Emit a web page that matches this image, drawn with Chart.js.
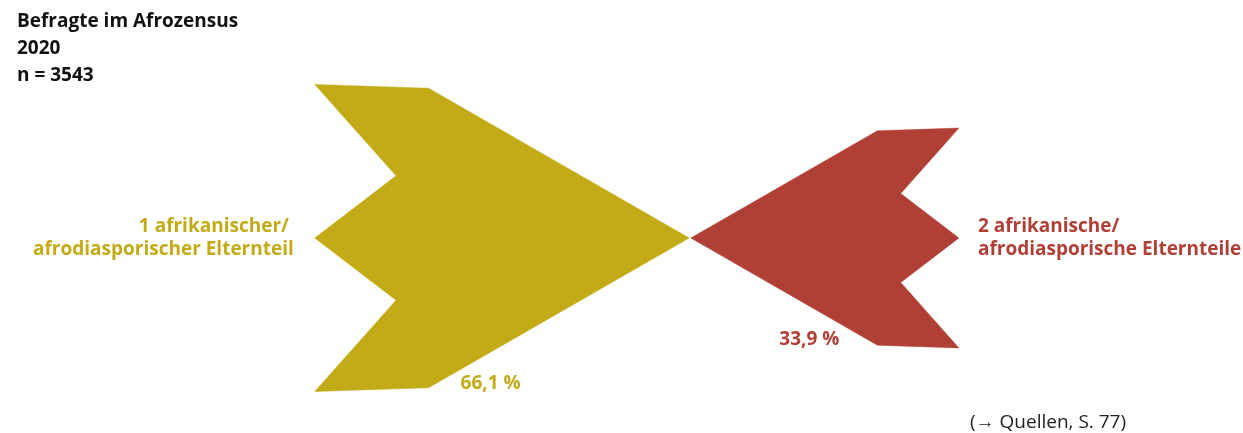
<!DOCTYPE html>
<html lang="de">
<head>
<meta charset="utf-8">
<title>Afrozensus 2020 – Elternteile</title>
<script src="https://cdn.jsdelivr.net/npm/chart.js@4/dist/chart.umd.min.js"></script>
<style>
  html, body { margin: 0; padding: 0; background: #fff; }
  #wrap { position: relative; width: 1243px; height: 433px; }
</style>
</head>
<body>
<div id="wrap"><canvas id="arrows"></canvas></div>
<script>
// Daten
const categories = [
  "1 afrikanischer/ afrodiasporischer Elternteil",
  "2 afrikanische/ afrodiasporische Elternteile",
];
const shares = [66.1, 33.9];
const shareLabels = ["66,1 %", "33,9 %"];
const titleLines = ["Befragte im Afrozensus", "2020", "n = 3543"];
const sourceNote = "(\u2192 Quellen, S. 77)";

const colors = ["#c3ab17", "#b04036"];
const font = "'Open Sans', 'Noto Sans', sans-serif";

// Pfeilform (Spitze bei 0, Breite 1), Fläche proportional zum Anteil
const arrowShape = [
  [0, 0], [0.696, -0.4], [1, -0.41], [0.783, -0.166], [1, 0],
  [0.783, 0.166], [1, 0.41], [0.696, 0.4], [0, 0],
];
const unitsPerSqrt = 46.05;
const tipGap = 0.8;

function shapePoints(share, dir) {
  const size = unitsPerSqrt * Math.sqrt(share);
  return arrowShape.map(([dx, dy]) => ({
    x: dir * (tipGap + dx * size),
    y: dy * size,
  }));
}

const datasets = shares.map((share, i) => ({
  label: categories[i],
  data: shapePoints(share, i === 0 ? -1 : 1),
  showLine: true,
  fill: "shape",
  backgroundColor: colors[i],
  borderColor: colors[i],
  borderWidth: 0.5,
  pointRadius: 0,
  tension: 0,
}));

// Texte: Titel, Kategorien, Prozentwerte, Quelle
const labelPlugin = {
  id: "labels",
  afterDraw(chart) {
    const ctx = chart.ctx;
    const xs = chart.scales.x;
    const ys = chart.scales.y;
    ctx.save();

    ctx.fillStyle = "#111";
    ctx.textAlign = "left";
    ctx.font = "bold 19px " + font;
    titleLines.forEach((t, i) => ctx.fillText(t, 17, 27 + i * 27));

    chart.data.datasets.forEach((ds, i) => {
      const pts = ds.data;
      const left = i === 0;
      const outer = pts[4];
      const inner = pts[7];
      ctx.fillStyle = colors[i];
      ctx.font = "bold 19px " + font;

      // Kategorie neben der Pfeilbasis
      const lines = categories[i].split(/(?<=\/ )/);
      const cy = ys.getPixelForValue(0);
      const ox = xs.getPixelForValue(outer.x);
      ctx.textAlign = left ? "right" : "left";
      const lx = left ? ox - 21 : ox + 19;
      lines.forEach((l, k) => ctx.fillText(l, lx, cy - 6 + k * 23));

      // Prozentwert unter der Pfeilkante
      const ix = xs.getPixelForValue(inner.x);
      const iy = ys.getPixelForValue(inner.y);
      ctx.textAlign = left ? "left" : "right";
      ctx.fillText(shareLabels[i], left ? ix + 32 : ix - 38, left ? iy + 1 : iy);
    });

    ctx.fillStyle = "#222";
    ctx.textAlign = "left";
    ctx.font = "19px " + font;
    ctx.fillText(sourceNote, 970, 428);
    ctx.restore();
  },
};

new Chart(document.getElementById("arrows"), {
  type: "scatter",
  data: { datasets },
  options: {
    responsive: true,
    maintainAspectRatio: false,
    animation: false,
    layout: { padding: 0 },
    plugins: { legend: { display: false }, tooltip: { enabled: false } },
    scales: {
      x: { type: "linear", min: -690, max: 553, display: false },
      y: { type: "linear", min: -238, max: 195, reverse: true, display: false },
    },
  },
  plugins: [labelPlugin],
});
</script>
</body>
</html>
